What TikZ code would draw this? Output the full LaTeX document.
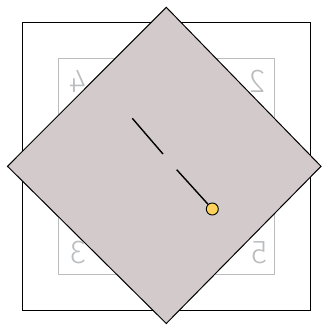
\documentclass[tikz,border=0pt]{standalone}
\usepackage{fontspec}
\setmainfont{Liberation Sans}
\newfontfamily\thinfont{Fira Sans}[UprightFont=* Light]
\definecolor{diafill}{RGB}{211,203,203}
\definecolor{faint}{RGB}{186,189,192}
\definecolor{knob}{RGB}{252,210,90}
\begin{document}
\begin{tikzpicture}[x=1pt,y=-1pt,
  frame/.style={draw=black,line width=1.1pt},
  inner/.style={draw=faint,line width=0.8pt},
  digit/.style={text=faint,font=\thinfont\fontsize{33}{33}\selectfont,inner sep=0pt,xscale=-1},
  board/.style={draw=black,fill=diafill,line width=1pt},
  hand/.style={draw=black,line width=1.4pt},
  pin/.style={circle,draw=black,fill=knob,line width=0.9pt,minimum size=12pt,inner sep=0pt}]
\useasboundingbox (0,0) rectangle (322,325);
\draw[frame] (22.3,22.3) rectangle (310.5,310.5);
\draw[inner] (58.3,58.3) rectangle (274.3,274.3);
\node[digit] (d4) at (77.5,81.5) {4};
\node[digit] (d2) at (257,81.5) {2};
\node[digit] (d3) at (77.5,252.5) {3};
\node[digit] (d5) at (259,252.5) {5};
\draw[board] (166.3,7.3) -- (321,166.3) -- (166.3,323.5) -- (7.5,166.3) -- cycle;
\coordinate (a1) at (132.3,118.3);
\coordinate (a2) at (163,154);
\coordinate (b1) at (176.7,169.7);
\coordinate (pc) at (212.3,209);
\draw[hand] (a1) -- (a2);
\draw[hand] (b1) -- (pc);
\node[pin] (p) at (pc) {};
\end{tikzpicture}
\end{document}
